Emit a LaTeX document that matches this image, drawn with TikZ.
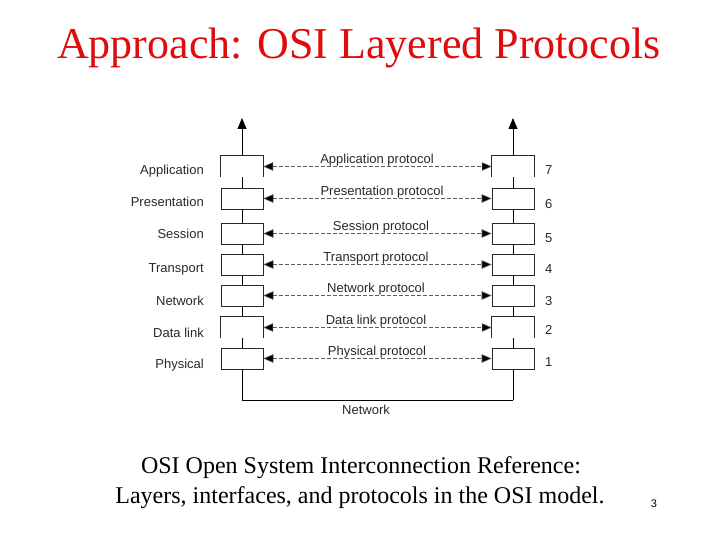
\documentclass[tikz,border=0pt]{standalone}
\usepackage{fontspec}
\setmainfont{Liberation Serif}
\newfontfamily\arialf{Liberation Sans}
\usetikzlibrary{arrows.meta}
\definecolor{titlered}{RGB}{222,12,12}
\definecolor{ink}{RGB}{40,40,40}
\tikzset{
  layerbox/.style={draw=ink, line width=0.7pt, fill=white, minimum width=42pt, minimum height=21pt, inner sep=0pt},
  openbox/.style={draw=none, fill=white, minimum width=42pt, minimum height=21pt, inner sep=0pt},
  lbl/.style={font=\arialf\fontsize{13}{15}\selectfont, text=ink, inner sep=0pt},
  proto/.style={dashed, dash pattern=on 3.5pt off 2.5pt, line width=0.6pt, draw=ink!75,
    {Triangle[length=10pt,width=8.5pt,fill=black]}-{Triangle[length=10pt,width=8.5pt,fill=black]}},
  stack/.style={line width=0.8pt, draw=black},
  captionstyle/.style={font=\fontsize{24}{28}\selectfont, inner sep=0pt, anchor=base}
}
\begin{document}
\begin{tikzpicture}[x=1pt,y=-1pt]
\useasboundingbox (0,0) rectangle (720,540);
% title
\node[font=\fontsize{44}{52}\selectfont, text=titlered, anchor=base, inner sep=0pt] (title) at (359,59) {Approach: OSI Layered Protocols};
% stack lines
\coordinate (ltop) at (242,118);
\coordinate (rtop) at (513,118);
\coordinate (lbot) at (242,400);
\coordinate (rbot) at (513,400);
\draw[stack, -{Triangle[length=11pt,width=9pt]}] (rbot) -- (lbot) -- (ltop);
\draw[stack, -{Triangle[length=11pt,width=9pt]}] (rbot) -- (rtop);
% boxes
\foreach \n/\t/\st in {7/156/openbox,6/188/layerbox,5/223/layerbox,4/254/layerbox,3/285/layerbox,2/317/openbox,1/348/layerbox}{
  \node[\st] (L\n) at (242,\t+10.5) {};
  \node[\st] (R\n) at (513,\t+10.5) {};
}
\foreach \n in {7,2}{
  \draw[draw=ink, line width=0.7pt] (L\n.south west) -- (L\n.north west) -- (L\n.north east) -- (L\n.south east);
  \draw[draw=ink, line width=0.7pt] (R\n.south west) -- (R\n.north west) -- (R\n.north east) -- (R\n.south east);
}
% protocol arrows
\foreach \n in {7,6,5,4,3,2,1}{
  \draw[proto] (L\n.east) -- (R\n.west);
}
% protocol labels
\node[lbl, anchor=base] (p7) at (377,163.5) {Application protocol};
\node[lbl, anchor=base] (p6) at (382,196) {Presentation protocol};
\node[lbl, anchor=base] (p5) at (381,230.5) {Session protocol};
\node[lbl, anchor=base] (p4) at (376,261.5) {Transport protocol};
\node[lbl, anchor=base] (p3) at (376,292.5) {Network protocol};
\node[lbl, anchor=base] (p2) at (376,324.5) {Data link protocol};
\node[lbl, anchor=base] (p1) at (377,355.5) {Physical protocol};
% left labels
\node[lbl, anchor=base east] (n7) at (204,174.5) {Application};
\node[lbl, anchor=base east] (n6) at (204,206.5) {Presentation};
\node[lbl, anchor=base east] (n5) at (204,238.5) {Session};
\node[lbl, anchor=base east] (n4) at (204,272.5) {Transport};
\node[lbl, anchor=base east] (n3) at (204,305.5) {Network};
\node[lbl, anchor=base east] (n2) at (204,337.5) {Data link};
\node[lbl, anchor=base east] (n1) at (204,368.5) {Physical};
% right numbers
\node[lbl, anchor=base west] (m7) at (545,174.5) {7};
\node[lbl, anchor=base west] (m6) at (545,208.5) {6};
\node[lbl, anchor=base west] (m5) at (545,242.5) {5};
\node[lbl, anchor=base west] (m4) at (545,273.5) {4};
\node[lbl, anchor=base west] (m3) at (545,305.5) {3};
\node[lbl, anchor=base west] (m2) at (545,334.5) {2};
\node[lbl, anchor=base west] (m1) at (545,366.5) {1};
% network
\node[lbl, anchor=base] (net) at (366,414) {Network};
% caption
\node[captionstyle] (cap1) at (361,473) {OSI Open System Interconnection Reference:};
\node[captionstyle] (cap2) at (360,503) {Layers, interfaces, and protocols in the OSI model.};
\node[font=\arialf\fontsize{11}{13}\selectfont, anchor=base, inner sep=0pt] (pg) at (654,507) {3};
\end{tikzpicture}
\end{document}
